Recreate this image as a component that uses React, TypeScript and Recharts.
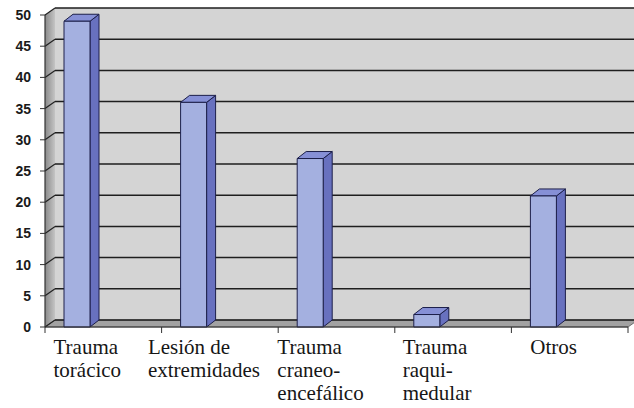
import { BarChart, Bar, XAxis, YAxis, CartesianGrid } from "recharts";

const categories = [
  "Trauma\ntorácico",
  "Lesión de\nextremidades",
  "Trauma\ncraneo-\nencefálico",
  "Trauma\nraqui-\nmedular",
  "Otros",
];
const values = [49, 36, 27, 2, 21];
const yTicks = [0, 5, 10, 15, 20, 25, 30, 35, 40, 45, 50];

const data = categories.map((name, i) => ({ name, value: values[i] }));

const W = 634;
const H = 408;
const MARGIN = { top: 15, right: 6, bottom: 0, left: 0 };
const Y_AXIS_W = 45;
const X_AXIS_H = 81;
const PLOT_W = W - MARGIN.left - MARGIN.right - Y_AXIS_W;
const BAND = PLOT_W / categories.length;

// 3D depth of the walls and the bars
const DX = 10;
const DY = 7;
const BAR_DX = 9;
const BAR_DY = 7;
const BAR_SHIFT = -26; // bars sit left of the band centre, like the Excel 3D look

const SERIF = "Liberation Serif, DejaVu Serif, serif";
const SANS = "Liberation Sans, Arimo, sans-serif";

let ctx: CanvasRenderingContext2D | null = null;
function textWidth(s: string) {
  if (!ctx) ctx = document.createElement("canvas").getContext("2d");
  if (!ctx) return s.length * 9;
  ctx.font = `21px ${SERIF}`;
  return ctx.measureText(s).width;
}

function Walls({ x, y, width, height }: any) {
  const bottom = y + height;
  return (
    <g>
      <defs>
        <linearGradient id="sideWall" x1="0" y1="0" x2="1" y2="0">
          <stop offset="0" stopColor="#8a8a8a" />
          <stop offset="1" stopColor="#c4c4c4" />
        </linearGradient>
      </defs>
      <rect x={x + DX} y={y - DY} width={width + 20} height={height} fill="#d4d4d4" />
      <polygon
        points={`${x},${y} ${x + DX},${y - DY} ${x + DX},${bottom - DY} ${x},${bottom}`}
        fill="url(#sideWall)"
      />
      <polygon
        points={`${x},${bottom} ${x + DX},${bottom - DY} ${x + width + DX},${bottom - DY} ${x + width},${bottom}`}
        fill="#a2a2a2"
        stroke="#555"
        strokeWidth={0.8}
      />
    </g>
  );
}

function GridLine(props: any) {
  const { x1, y1, x2, index } = props;
  const bx = x1 + DX;
  const by = y1 - DY;
  return (
    <g key={`gl-${index}`}>
      {index === 0 && <Walls x={props.x} y={props.y} width={props.width} height={props.height} />}
      <line x1={x1} y1={y1} x2={bx} y2={by} stroke="#222" strokeWidth={1.2} />
      <line x1={bx} y1={by} x2={x2 + DX + 20} y2={by} stroke="#1e1e1e" strokeWidth={1.5} />
    </g>
  );
}

function Box3D(props: any) {
  const { x, y, width, height } = props;
  if (height == null || width == null) return null;
  const fx = x + BAR_SHIFT;
  const b = y + height;
  const r = fx + width;
  return (
    <g stroke="#1c1f4a" strokeWidth={1} strokeLinejoin="round">
      <polygon
        points={`${r},${y} ${r + BAR_DX},${y - BAR_DY} ${r + BAR_DX},${b - BAR_DY} ${r},${b}`}
        fill="#6871bf"
      />
      <polygon
        points={`${fx},${y} ${fx + BAR_DX},${y - BAR_DY} ${r + BAR_DX},${y - BAR_DY} ${r},${y}`}
        fill="#8690d6"
      />
      <rect x={fx} y={y} width={width} height={height} fill="#a4b0e0" />
    </g>
  );
}

function XTick(props: any) {
  const { x, y, payload, index } = props;
  const lines = String(payload.value).split("\n");
  const blockW = Math.max(...lines.map(textWidth));
  const left = x - 16 - blockW / 2;
  const start = x - BAND / 2;
  return (
    <g>
      <line x1={start} y1={y} x2={start} y2={y + 6} stroke="#333" strokeWidth={1} />
      {index === categories.length - 1 && (
        <line x1={x + BAND / 2} y1={y} x2={x + BAND / 2} y2={y + 6} stroke="#333" strokeWidth={1} />
      )}
      <text x={left} y={y + 27} style={{ fontFamily: SERIF, fontSize: 21 }} fill="#161616">
        {lines.map((l, i) => (
          <tspan key={i} x={left} dy={i === 0 ? 0 : 23}>
            {l}
          </tspan>
        ))}
      </text>
    </g>
  );
}

function YTick(props: any) {
  const { x, y, payload } = props;
  return (
    <g>
      <line x1={x - 5} y1={y} x2={x} y2={y} stroke="#333" strokeWidth={1} />
      <text
        x={x - 14}
        y={y + 5}
        textAnchor="end"
        style={{ fontFamily: SANS, fontWeight: 700, fontSize: 14 }}
        fill="#1a1a1a"
      >
        {payload.value}
      </text>
    </g>
  );
}

export default function App() {
  return (
    <div style={{ position: "absolute", left: 0, top: 0, width: W, height: H, background: "#fff" }}>
      <BarChart width={W} height={H} data={data} margin={MARGIN}>
        <CartesianGrid vertical={false} horizontal={GridLine} fill="none" />
        <XAxis
          dataKey="name"
          height={X_AXIS_H}
          interval={0}
          tickSize={0}
          tickMargin={0}
          tickLine={false}
          axisLine={{ stroke: "#333", strokeWidth: 1.2 }}
          tick={<XTick />}
        />
        <YAxis
          width={Y_AXIS_W}
          domain={[0, 50]}
          ticks={yTicks}
          interval={0}
          tickSize={0}
          tickMargin={0}
          tickLine={false}
          axisLine={{ stroke: "#333", strokeWidth: 1.2 }}
          tick={<YTick />}
        />
        <Bar dataKey="value" barSize={26} shape={<Box3D />} isAnimationActive={false} />
      </BarChart>
    </div>
  );
}
